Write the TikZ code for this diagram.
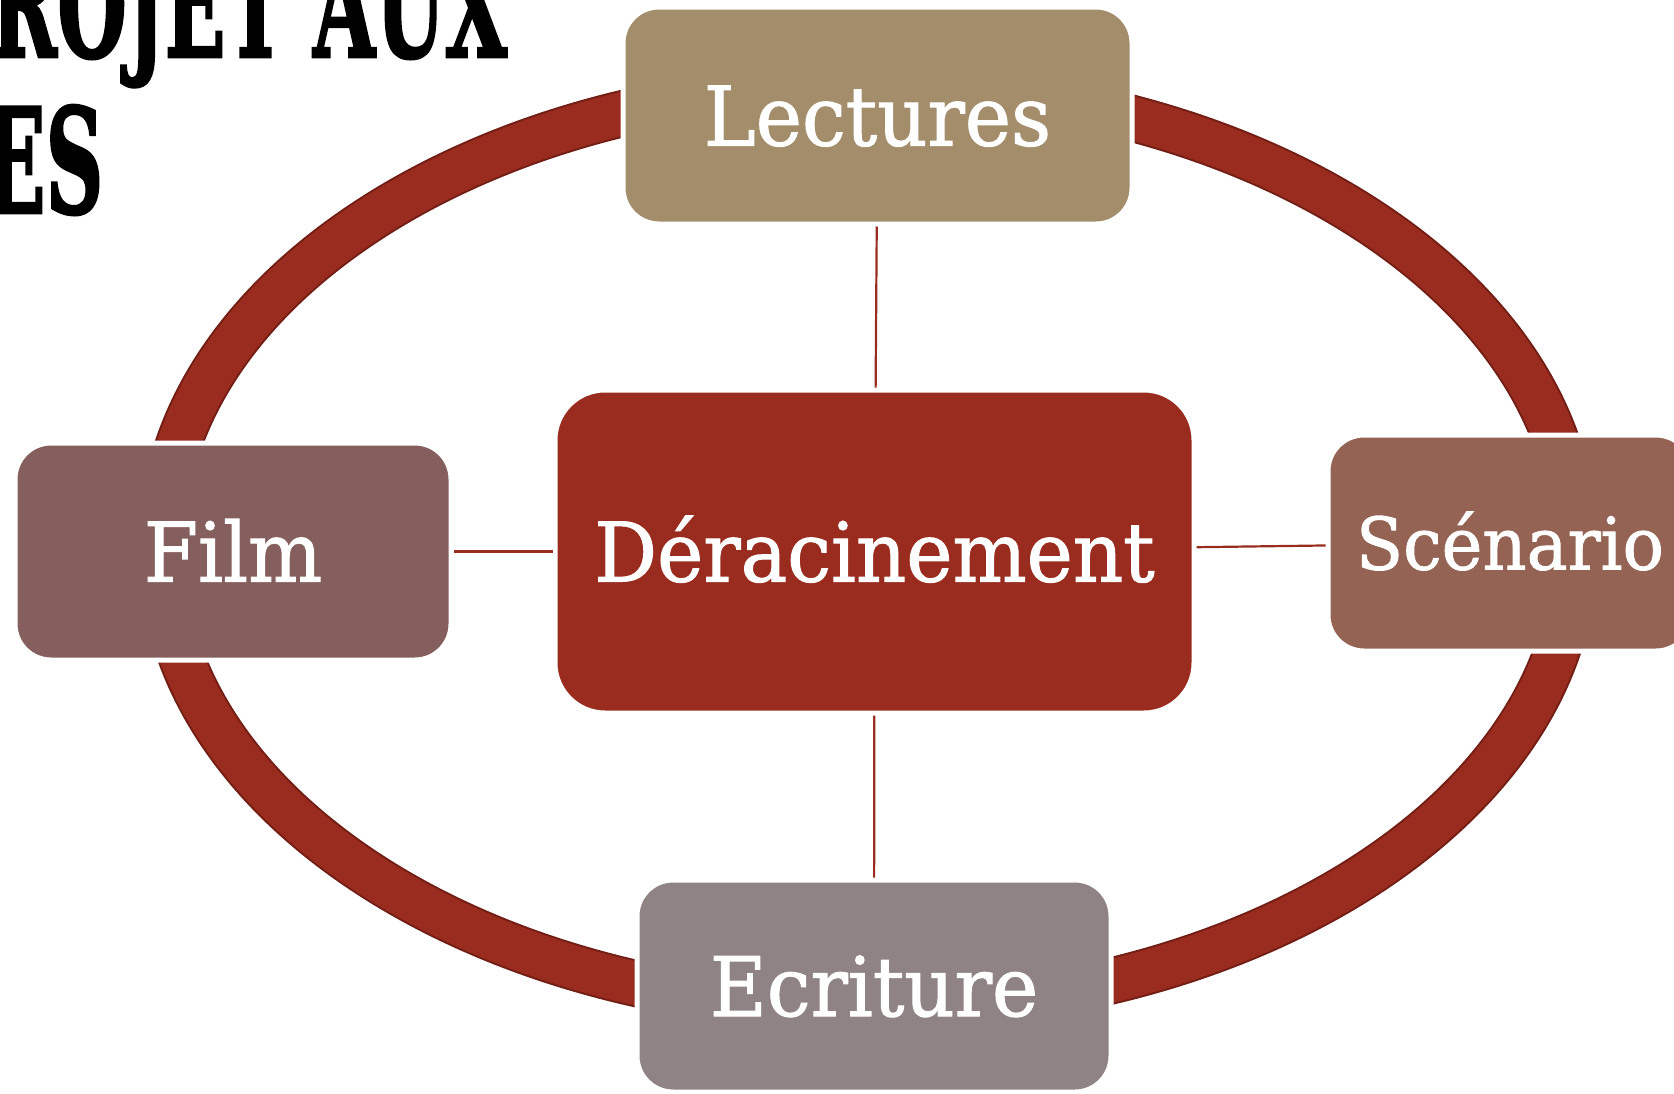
\documentclass[tikz,border=0pt]{standalone}
\usepackage{fontspec}
\setmainfont{DejaVu Serif}
\newfontfamily\boxfont[FakeBold=1.3]{DejaVu Serif}
\newfontfamily\titlefont[BoldFeatures={FakeBold=2}]{DejaVu Serif}
\usepackage{graphicx}
\definecolor{ringred}{HTML}{9A2C1F}
\definecolor{ringedge}{HTML}{721E15}
\definecolor{clect}{HTML}{A38D6B}
\definecolor{cfilm}{HTML}{855F5E}
\definecolor{cscen}{HTML}{956353}
\definecolor{cecri}{HTML}{8F8483}
\newcommand{\bxt}[1]{\scalebox{0.95}[1]{#1}}
\tikzset{
  boxnode/.style={draw=white, line width=0.05cm, rounded corners=0.36cm, text=white,
    inner sep=0pt, text height=0.6cm, text depth=0pt,
    font=\boxfont\fontsize{23.4pt}{28pt}\selectfont},
  linkline/.style={draw=ringred, line width=0.022cm},
  titletext/.style={inner sep=0pt, text=black, font=\titlefont\bfseries\fontsize{41.4pt}{41.4pt}\selectfont}
}
\begin{document}
\begin{tikzpicture}
\useasboundingbox (0,0) rectangle (16.74,-10.94);
% title fragment
\node[titletext, anchor=base west] (title1) at (-0.10,-0.57) {\scalebox{0.55}[1]{ROJET AUX}};
\node[titletext, anchor=base west] (title2) at (-0.16,-2.13) {\scalebox{0.55}[1]{ES}};
% ring
\draw[ringedge, line width=0.47cm] (8.68,-5.47) ellipse [x radius=7.07, y radius=4.62];
\draw[ringred, line width=0.43cm] (8.68,-5.47) ellipse [x radius=7.07, y radius=4.62];
% boxes
\node[boxnode, fill=clect, minimum width=5.09cm, minimum height=2.17cm] (lect) at (8.775,-1.155) {\bxt{Lectures}};
\node[boxnode, fill=ringred, rounded corners=0.5cm, minimum width=6.39cm, minimum height=3.23cm] (der) at (8.745,-5.515) {\bxt{Déracinement}};
\node[boxnode, fill=cfilm, minimum width=4.36cm, minimum height=2.17cm] (film) at (2.33,-5.515) {\bxt{Film}};
\node[boxnode, fill=cscen, minimum width=3.64cm, minimum height=2.16cm, text height=0.53cm, font=\boxfont\fontsize{20.6pt}{24pt}\selectfont] (scen) at (15.1,-5.43) {\bxt{Scénario}};
\node[boxnode, fill=cecri, minimum width=4.74cm, minimum height=2.12cm] (ecri) at (8.74,-9.86) {\bxt{Ecriture}};
% connectors
\draw[linkline] (lect) -- (der);
\draw[linkline] (film) -- (der);
\draw[linkline] (scen) -- (der);
\draw[linkline] (ecri) -- (der);
\end{tikzpicture}
\end{document}
